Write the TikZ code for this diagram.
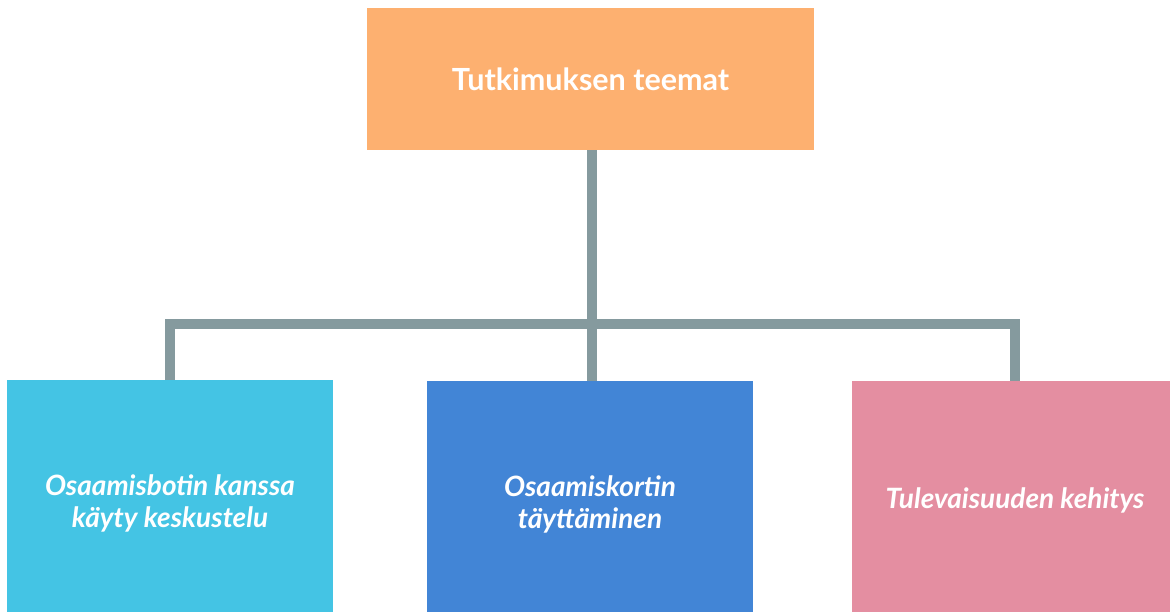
\documentclass[tikz,border=0pt]{standalone}
\usepackage{fontspec}
\setmainfont{Lato}
\usetikzlibrary{positioning,calc}

\definecolor{teemaorange}{RGB}{253,176,112}
\definecolor{teemacyan}{RGB}{68,196,228}
\definecolor{teemablue}{RGB}{66,133,214}
\definecolor{teemapink}{RGB}{228,142,161}
\definecolor{teemagray}{RGB}{133,154,158}

\begin{document}
\begin{tikzpicture}[x=1pt,y=-1pt]
    \tikzstyle{every node}+=[inner sep=0pt, text=white, align=center]
    \tikzstyle{topbox}=[fill=teemaorange, minimum width=447pt, minimum height=142pt,
        font=\bfseries\fontsize{30.5}{36}\selectfont]
    \tikzstyle{themebox}=[anchor=north, minimum width=326pt, minimum height=246pt,
        font=\bfseries\itshape\fontsize{28}{32}\selectfont]
    \tikzstyle{bar}=[draw=teemagray, line width=10pt]
    \useasboundingbox (0,0) rectangle (1170,611);
    \node [topbox] (teemat) at (590.5,79) {Tutkimuksen teemat};
    \node [themebox, fill=teemacyan] (botti) at (170,380) {Osaamisbotin kanssa\\käyty keskustelu};
    \node [themebox, fill=teemablue] (kortti) at (590,381) {Osaamiskortin\\täyttäminen};
    \node [themebox, fill=teemapink, minimum height=238pt] (tulevaisuus) at (1015,381) {Tulevaisuuden kehitys};
    \coordinate (haara) at (592,324);
    \draw [bar] (teemat.south -| haara) -- (kortti.north -| haara);
    \draw [bar] (botti.north) |- (haara) -| (tulevaisuus.north);
\end{tikzpicture}
\end{document}
